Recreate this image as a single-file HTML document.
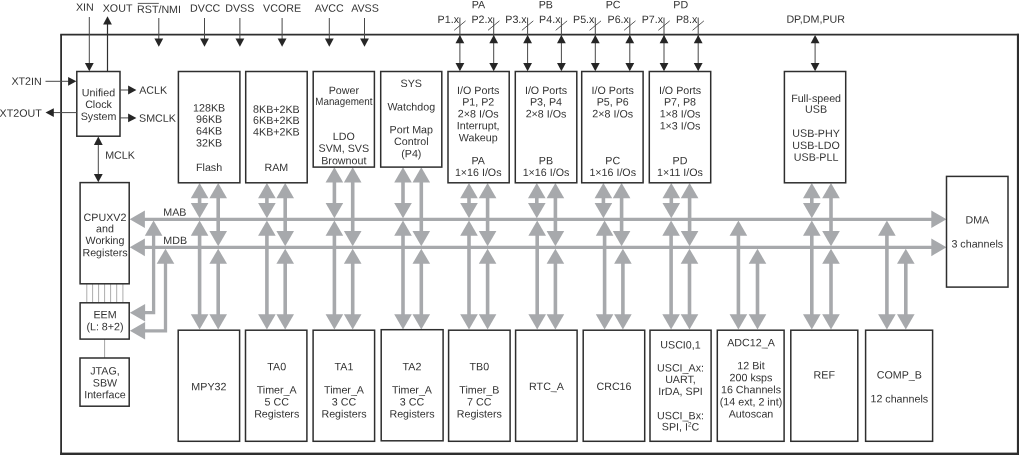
<!DOCTYPE html>
<html><head><meta charset="utf-8"><title>Functional Block Diagram</title>
<style>
html,body{margin:0;padding:0;background:#fff;}
body{width:1019px;height:455px;overflow:hidden;}
svg{display:block;will-change:transform;}
svg text{text-rendering:geometricPrecision;font-family:"Liberation Sans",sans-serif;font-size:10.7px;fill:#333333;}
</style></head><body>
<svg width="1019" height="455" viewBox="0 0 1019 455">
<line x1="60.2" y1="34.7" x2="1019" y2="34.7" stroke="#2e2e2e" stroke-width="1.8"/>
<line x1="61.1" y1="34.7" x2="61.1" y2="455" stroke="#2e2e2e" stroke-width="1.8"/>
<rect x="60.2" y="452.6" width="960" height="3.2" fill="#2e2e2e"/>
<rect x="1016.9" y="33.8" width="2.3" height="422" fill="#2e2e2e"/>
<line x1="140.00" y1="219.30" x2="935.00" y2="219.30" stroke="#a7a9ac" stroke-width="3.3"/>
<line x1="140.00" y1="247.35" x2="935.00" y2="247.35" stroke="#a7a9ac" stroke-width="3.3"/>
<polygon fill="#a7a9ac" points="129.70,219.30 144.90,210.50 144.90,228.10"/>
<polygon fill="#a7a9ac" points="129.70,247.35 144.90,238.55 144.90,256.15"/>
<polygon fill="#a7a9ac" points="946.50,219.30 931.30,210.50 931.30,228.10"/>
<polygon fill="#a7a9ac" points="946.50,247.35 931.30,238.55 931.30,256.15"/>
<line x1="199.60" y1="190.80" x2="199.60" y2="211.30" stroke="#a7a9ac" stroke-width="3.6"/>
<line x1="218.20" y1="190.80" x2="218.20" y2="239.35" stroke="#a7a9ac" stroke-width="3.6"/>
<polygon fill="#a7a9ac" points="199.60,183.00 190.80,198.20 208.40,198.20"/>
<polygon fill="#a7a9ac" points="218.20,183.00 209.40,198.20 227.00,198.20"/>
<polygon fill="#a7a9ac" points="199.60,218.20 190.80,203.00 208.40,203.00"/>
<polygon fill="#a7a9ac" points="218.20,246.25 209.40,231.05 227.00,231.05"/>
<line x1="199.60" y1="227.30" x2="199.60" y2="322.20" stroke="#a7a9ac" stroke-width="3.6"/>
<line x1="218.20" y1="255.35" x2="218.20" y2="322.20" stroke="#a7a9ac" stroke-width="3.6"/>
<polygon fill="#a7a9ac" points="199.60,220.60 190.80,235.80 208.40,235.80"/>
<polygon fill="#a7a9ac" points="218.20,248.65 209.40,263.85 227.00,263.85"/>
<polygon fill="#a7a9ac" points="199.60,329.50 190.80,314.30 208.40,314.30"/>
<polygon fill="#a7a9ac" points="218.20,329.50 209.40,314.30 227.00,314.30"/>
<line x1="266.90" y1="190.80" x2="266.90" y2="211.30" stroke="#a7a9ac" stroke-width="3.6"/>
<line x1="285.20" y1="190.80" x2="285.20" y2="239.35" stroke="#a7a9ac" stroke-width="3.6"/>
<polygon fill="#a7a9ac" points="266.90,183.00 258.10,198.20 275.70,198.20"/>
<polygon fill="#a7a9ac" points="285.20,183.00 276.40,198.20 294.00,198.20"/>
<polygon fill="#a7a9ac" points="266.90,218.20 258.10,203.00 275.70,203.00"/>
<polygon fill="#a7a9ac" points="285.20,246.25 276.40,231.05 294.00,231.05"/>
<line x1="266.90" y1="227.30" x2="266.90" y2="322.20" stroke="#a7a9ac" stroke-width="3.6"/>
<line x1="285.20" y1="255.35" x2="285.20" y2="322.20" stroke="#a7a9ac" stroke-width="3.6"/>
<polygon fill="#a7a9ac" points="266.90,220.60 258.10,235.80 275.70,235.80"/>
<polygon fill="#a7a9ac" points="285.20,248.65 276.40,263.85 294.00,263.85"/>
<polygon fill="#a7a9ac" points="266.90,329.50 258.10,314.30 275.70,314.30"/>
<polygon fill="#a7a9ac" points="285.20,329.50 276.40,314.30 294.00,314.30"/>
<line x1="334.40" y1="175.10" x2="334.40" y2="211.30" stroke="#a7a9ac" stroke-width="3.6"/>
<line x1="352.70" y1="175.10" x2="352.70" y2="239.35" stroke="#a7a9ac" stroke-width="3.6"/>
<polygon fill="#a7a9ac" points="334.40,167.30 325.60,182.50 343.20,182.50"/>
<polygon fill="#a7a9ac" points="352.70,167.30 343.90,182.50 361.50,182.50"/>
<polygon fill="#a7a9ac" points="334.40,218.20 325.60,203.00 343.20,203.00"/>
<polygon fill="#a7a9ac" points="352.70,246.25 343.90,231.05 361.50,231.05"/>
<line x1="334.40" y1="227.30" x2="334.40" y2="322.20" stroke="#a7a9ac" stroke-width="3.6"/>
<line x1="352.70" y1="255.35" x2="352.70" y2="322.20" stroke="#a7a9ac" stroke-width="3.6"/>
<polygon fill="#a7a9ac" points="334.40,220.60 325.60,235.80 343.20,235.80"/>
<polygon fill="#a7a9ac" points="352.70,248.65 343.90,263.85 361.50,263.85"/>
<polygon fill="#a7a9ac" points="334.40,329.50 325.60,314.30 343.20,314.30"/>
<polygon fill="#a7a9ac" points="352.70,329.50 343.90,314.30 361.50,314.30"/>
<line x1="403.00" y1="175.10" x2="403.00" y2="211.30" stroke="#a7a9ac" stroke-width="3.6"/>
<line x1="421.30" y1="175.10" x2="421.30" y2="239.35" stroke="#a7a9ac" stroke-width="3.6"/>
<polygon fill="#a7a9ac" points="403.00,167.30 394.20,182.50 411.80,182.50"/>
<polygon fill="#a7a9ac" points="421.30,167.30 412.50,182.50 430.10,182.50"/>
<polygon fill="#a7a9ac" points="403.00,218.20 394.20,203.00 411.80,203.00"/>
<polygon fill="#a7a9ac" points="421.30,246.25 412.50,231.05 430.10,231.05"/>
<line x1="403.00" y1="227.30" x2="403.00" y2="322.20" stroke="#a7a9ac" stroke-width="3.6"/>
<line x1="421.30" y1="255.35" x2="421.30" y2="322.20" stroke="#a7a9ac" stroke-width="3.6"/>
<polygon fill="#a7a9ac" points="403.00,220.60 394.20,235.80 411.80,235.80"/>
<polygon fill="#a7a9ac" points="421.30,248.65 412.50,263.85 430.10,263.85"/>
<polygon fill="#a7a9ac" points="403.00,329.50 394.20,314.30 411.80,314.30"/>
<polygon fill="#a7a9ac" points="421.30,329.50 412.50,314.30 430.10,314.30"/>
<line x1="469.00" y1="190.80" x2="469.00" y2="211.30" stroke="#a7a9ac" stroke-width="3.6"/>
<line x1="487.60" y1="190.80" x2="487.60" y2="239.35" stroke="#a7a9ac" stroke-width="3.6"/>
<polygon fill="#a7a9ac" points="469.00,183.00 460.20,198.20 477.80,198.20"/>
<polygon fill="#a7a9ac" points="487.60,183.00 478.80,198.20 496.40,198.20"/>
<polygon fill="#a7a9ac" points="469.00,218.20 460.20,203.00 477.80,203.00"/>
<polygon fill="#a7a9ac" points="487.60,246.25 478.80,231.05 496.40,231.05"/>
<line x1="469.00" y1="227.30" x2="469.00" y2="322.20" stroke="#a7a9ac" stroke-width="3.6"/>
<line x1="487.60" y1="255.35" x2="487.60" y2="322.20" stroke="#a7a9ac" stroke-width="3.6"/>
<polygon fill="#a7a9ac" points="469.00,220.60 460.20,235.80 477.80,235.80"/>
<polygon fill="#a7a9ac" points="487.60,248.65 478.80,263.85 496.40,263.85"/>
<polygon fill="#a7a9ac" points="469.00,329.50 460.20,314.30 477.80,314.30"/>
<polygon fill="#a7a9ac" points="487.60,329.50 478.80,314.30 496.40,314.30"/>
<line x1="536.80" y1="190.80" x2="536.80" y2="211.30" stroke="#a7a9ac" stroke-width="3.6"/>
<line x1="555.40" y1="190.80" x2="555.40" y2="239.35" stroke="#a7a9ac" stroke-width="3.6"/>
<polygon fill="#a7a9ac" points="536.80,183.00 528.00,198.20 545.60,198.20"/>
<polygon fill="#a7a9ac" points="555.40,183.00 546.60,198.20 564.20,198.20"/>
<polygon fill="#a7a9ac" points="536.80,218.20 528.00,203.00 545.60,203.00"/>
<polygon fill="#a7a9ac" points="555.40,246.25 546.60,231.05 564.20,231.05"/>
<line x1="537.20" y1="227.30" x2="537.20" y2="322.20" stroke="#a7a9ac" stroke-width="3.6"/>
<line x1="555.40" y1="255.35" x2="555.40" y2="322.20" stroke="#a7a9ac" stroke-width="3.6"/>
<polygon fill="#a7a9ac" points="537.20,220.60 528.40,235.80 546.00,235.80"/>
<polygon fill="#a7a9ac" points="555.40,248.65 546.60,263.85 564.20,263.85"/>
<polygon fill="#a7a9ac" points="537.20,329.50 528.40,314.30 546.00,314.30"/>
<polygon fill="#a7a9ac" points="555.40,329.50 546.60,314.30 564.20,314.30"/>
<line x1="603.40" y1="190.80" x2="603.40" y2="211.30" stroke="#a7a9ac" stroke-width="3.6"/>
<line x1="621.60" y1="190.80" x2="621.60" y2="239.35" stroke="#a7a9ac" stroke-width="3.6"/>
<polygon fill="#a7a9ac" points="603.40,183.00 594.60,198.20 612.20,198.20"/>
<polygon fill="#a7a9ac" points="621.60,183.00 612.80,198.20 630.40,198.20"/>
<polygon fill="#a7a9ac" points="603.40,218.20 594.60,203.00 612.20,203.00"/>
<polygon fill="#a7a9ac" points="621.60,246.25 612.80,231.05 630.40,231.05"/>
<line x1="604.60" y1="227.30" x2="604.60" y2="322.20" stroke="#a7a9ac" stroke-width="3.6"/>
<line x1="622.90" y1="255.35" x2="622.90" y2="322.20" stroke="#a7a9ac" stroke-width="3.6"/>
<polygon fill="#a7a9ac" points="604.60,220.60 595.80,235.80 613.40,235.80"/>
<polygon fill="#a7a9ac" points="622.90,248.65 614.10,263.85 631.70,263.85"/>
<polygon fill="#a7a9ac" points="604.60,329.50 595.80,314.30 613.40,314.30"/>
<polygon fill="#a7a9ac" points="622.90,329.50 614.10,314.30 631.70,314.30"/>
<line x1="671.30" y1="190.80" x2="671.30" y2="211.30" stroke="#a7a9ac" stroke-width="3.6"/>
<line x1="689.60" y1="190.80" x2="689.60" y2="239.35" stroke="#a7a9ac" stroke-width="3.6"/>
<polygon fill="#a7a9ac" points="671.30,183.00 662.50,198.20 680.10,198.20"/>
<polygon fill="#a7a9ac" points="689.60,183.00 680.80,198.20 698.40,198.20"/>
<polygon fill="#a7a9ac" points="671.30,218.20 662.50,203.00 680.10,203.00"/>
<polygon fill="#a7a9ac" points="689.60,246.25 680.80,231.05 698.40,231.05"/>
<line x1="671.10" y1="227.30" x2="671.10" y2="322.20" stroke="#a7a9ac" stroke-width="3.6"/>
<line x1="689.50" y1="255.35" x2="689.50" y2="322.20" stroke="#a7a9ac" stroke-width="3.6"/>
<polygon fill="#a7a9ac" points="671.10,220.60 662.30,235.80 679.90,235.80"/>
<polygon fill="#a7a9ac" points="689.50,248.65 680.70,263.85 698.30,263.85"/>
<polygon fill="#a7a9ac" points="671.10,329.50 662.30,314.30 679.90,314.30"/>
<polygon fill="#a7a9ac" points="689.50,329.50 680.70,314.30 698.30,314.30"/>
<line x1="738.40" y1="227.30" x2="738.40" y2="322.20" stroke="#a7a9ac" stroke-width="3.6"/>
<line x1="757.50" y1="255.35" x2="757.50" y2="322.20" stroke="#a7a9ac" stroke-width="3.6"/>
<polygon fill="#a7a9ac" points="738.40,220.60 729.60,235.80 747.20,235.80"/>
<polygon fill="#a7a9ac" points="757.50,248.65 748.70,263.85 766.30,263.85"/>
<polygon fill="#a7a9ac" points="738.40,329.50 729.60,314.30 747.20,314.30"/>
<polygon fill="#a7a9ac" points="757.50,329.50 748.70,314.30 766.30,314.30"/>
<line x1="811.80" y1="190.80" x2="811.80" y2="211.30" stroke="#a7a9ac" stroke-width="3.6"/>
<line x1="831.00" y1="190.80" x2="831.00" y2="239.35" stroke="#a7a9ac" stroke-width="3.6"/>
<polygon fill="#a7a9ac" points="811.80,183.00 803.00,198.20 820.60,198.20"/>
<polygon fill="#a7a9ac" points="831.00,183.00 822.20,198.20 839.80,198.20"/>
<polygon fill="#a7a9ac" points="811.80,218.20 803.00,203.00 820.60,203.00"/>
<polygon fill="#a7a9ac" points="831.00,246.25 822.20,231.05 839.80,231.05"/>
<line x1="811.80" y1="227.30" x2="811.80" y2="322.20" stroke="#a7a9ac" stroke-width="3.6"/>
<line x1="831.00" y1="255.35" x2="831.00" y2="322.20" stroke="#a7a9ac" stroke-width="3.6"/>
<polygon fill="#a7a9ac" points="811.80,220.60 803.00,235.80 820.60,235.80"/>
<polygon fill="#a7a9ac" points="831.00,248.65 822.20,263.85 839.80,263.85"/>
<polygon fill="#a7a9ac" points="811.80,329.50 803.00,314.30 820.60,314.30"/>
<polygon fill="#a7a9ac" points="831.00,329.50 822.20,314.30 839.80,314.30"/>
<line x1="886.90" y1="227.30" x2="886.90" y2="322.20" stroke="#a7a9ac" stroke-width="3.6"/>
<line x1="905.80" y1="255.35" x2="905.80" y2="322.20" stroke="#a7a9ac" stroke-width="3.6"/>
<polygon fill="#a7a9ac" points="886.90,220.60 878.10,235.80 895.70,235.80"/>
<polygon fill="#a7a9ac" points="905.80,248.65 897.00,263.85 914.60,263.85"/>
<polygon fill="#a7a9ac" points="886.90,329.50 878.10,314.30 895.70,314.30"/>
<polygon fill="#a7a9ac" points="905.80,329.50 897.00,314.30 914.60,314.30"/>
<polyline fill="none" stroke="#a7a9ac" stroke-width="3.3" points="153.6,227.3 153.6,312.7 140,312.7"/>
<polyline fill="none" stroke="#a7a9ac" stroke-width="3.3" points="165.5,255.35 165.5,330.8 140,330.8"/>
<polygon fill="#a7a9ac" points="153.60,220.60 144.80,235.80 162.40,235.80"/>
<polygon fill="#a7a9ac" points="165.50,248.65 156.70,263.85 174.30,263.85"/>
<polygon fill="#a7a9ac" points="129.90,312.70 145.10,303.90 145.10,321.50"/>
<polygon fill="#a7a9ac" points="129.90,330.80 145.10,322.00 145.10,339.60"/>
<line x1="86.80" y1="284.00" x2="86.80" y2="303.00" stroke="#a4a4a4" stroke-width="0.9"/>
<line x1="92.60" y1="284.00" x2="92.60" y2="303.00" stroke="#a4a4a4" stroke-width="0.9"/>
<line x1="98.60" y1="284.00" x2="98.60" y2="303.00" stroke="#a4a4a4" stroke-width="0.9"/>
<line x1="104.60" y1="284.00" x2="104.60" y2="303.00" stroke="#a4a4a4" stroke-width="0.9"/>
<line x1="110.60" y1="284.00" x2="110.60" y2="303.00" stroke="#a4a4a4" stroke-width="0.9"/>
<line x1="116.70" y1="284.00" x2="116.70" y2="303.00" stroke="#a4a4a4" stroke-width="0.9"/>
<line x1="122.90" y1="284.00" x2="122.90" y2="303.00" stroke="#a4a4a4" stroke-width="0.9"/>
<line x1="104.60" y1="339.00" x2="104.60" y2="358.00" stroke="#9a9a9a" stroke-width="0.9"/>
<rect x="76.80" y="71.50" width="43.20" height="64.70" fill="#fff" stroke="#2e2e2e" stroke-width="1.5"/>
<rect x="80.10" y="182.60" width="49.10" height="101.20" fill="#fff" stroke="#2e2e2e" stroke-width="1.5"/>
<rect x="80.10" y="302.80" width="49.10" height="36.30" fill="#fff" stroke="#2e2e2e" stroke-width="1.5"/>
<rect x="80.00" y="358.00" width="49.20" height="48.20" fill="#fff" stroke="#2e2e2e" stroke-width="1.5"/>
<rect x="178.40" y="71.50" width="61.50" height="111.30" fill="#fff" stroke="#2e2e2e" stroke-width="1.5"/>
<rect x="245.70" y="71.50" width="61.50" height="111.30" fill="#fff" stroke="#2e2e2e" stroke-width="1.5"/>
<rect x="313.20" y="71.50" width="61.20" height="95.60" fill="#fff" stroke="#2e2e2e" stroke-width="1.5"/>
<rect x="380.70" y="71.50" width="61.10" height="95.60" fill="#fff" stroke="#2e2e2e" stroke-width="1.5"/>
<rect x="448.00" y="71.50" width="61.20" height="111.30" fill="#fff" stroke="#2e2e2e" stroke-width="1.5"/>
<rect x="515.30" y="71.50" width="61.50" height="111.30" fill="#fff" stroke="#2e2e2e" stroke-width="1.5"/>
<rect x="581.70" y="71.50" width="61.40" height="111.30" fill="#fff" stroke="#2e2e2e" stroke-width="1.5"/>
<rect x="649.30" y="71.50" width="61.40" height="111.30" fill="#fff" stroke="#2e2e2e" stroke-width="1.5"/>
<rect x="784.40" y="71.50" width="61.30" height="111.30" fill="#fff" stroke="#2e2e2e" stroke-width="1.5"/>
<rect x="178.20" y="330.20" width="61.40" height="111.10" fill="#fff" stroke="#2e2e2e" stroke-width="1.5"/>
<rect x="245.50" y="330.20" width="61.40" height="111.10" fill="#fff" stroke="#2e2e2e" stroke-width="1.5"/>
<rect x="313.10" y="330.20" width="61.50" height="111.10" fill="#fff" stroke="#2e2e2e" stroke-width="1.5"/>
<rect x="381.20" y="329.70" width="61.90" height="111.10" fill="#fff" stroke="#2e2e2e" stroke-width="1.5"/>
<rect x="448.60" y="330.20" width="61.50" height="111.10" fill="#fff" stroke="#2e2e2e" stroke-width="1.5"/>
<rect x="515.60" y="330.20" width="61.50" height="111.10" fill="#fff" stroke="#2e2e2e" stroke-width="1.5"/>
<rect x="583.20" y="330.20" width="61.50" height="111.10" fill="#fff" stroke="#2e2e2e" stroke-width="1.5"/>
<rect x="650.00" y="330.20" width="61.10" height="111.10" fill="#fff" stroke="#2e2e2e" stroke-width="1.5"/>
<rect x="717.30" y="330.20" width="66.80" height="111.10" fill="#fff" stroke="#2e2e2e" stroke-width="1.5"/>
<rect x="790.80" y="330.20" width="67.00" height="111.10" fill="#fff" stroke="#2e2e2e" stroke-width="1.5"/>
<rect x="865.60" y="330.20" width="67.00" height="111.10" fill="#fff" stroke="#2e2e2e" stroke-width="1.5"/>
<rect x="946.50" y="176.40" width="61.50" height="110.70" fill="#fff" stroke="#2e2e2e" stroke-width="1.5"/>
<line x1="89.30" y1="17.00" x2="89.30" y2="66.00" stroke="#484848" stroke-width="1.0"/>
<polygon fill="#262626" points="89.30,71.20 84.90,62.90 93.70,62.90"/>
<line x1="107.50" y1="22.00" x2="107.50" y2="71.50" stroke="#2e2e2e" stroke-width="1.2"/>
<polygon fill="#262626" points="107.50,16.30 103.10,24.60 111.90,24.60"/>
<line x1="158.80" y1="18.00" x2="158.80" y2="41.00" stroke="#484848" stroke-width="1.0"/>
<polygon fill="#262626" points="158.80,46.80 154.40,38.50 163.20,38.50"/>
<line x1="204.50" y1="18.00" x2="204.50" y2="41.00" stroke="#484848" stroke-width="1.0"/>
<polygon fill="#262626" points="204.50,46.80 200.10,38.50 208.90,38.50"/>
<line x1="239.90" y1="18.00" x2="239.90" y2="41.00" stroke="#484848" stroke-width="1.0"/>
<polygon fill="#262626" points="239.90,46.80 235.50,38.50 244.30,38.50"/>
<line x1="282.10" y1="18.00" x2="282.10" y2="41.00" stroke="#484848" stroke-width="1.0"/>
<polygon fill="#262626" points="282.10,46.80 277.70,38.50 286.50,38.50"/>
<line x1="329.30" y1="18.00" x2="329.30" y2="41.00" stroke="#484848" stroke-width="1.0"/>
<polygon fill="#262626" points="329.30,46.80 324.90,38.50 333.70,38.50"/>
<line x1="364.50" y1="18.00" x2="364.50" y2="41.00" stroke="#484848" stroke-width="1.0"/>
<polygon fill="#262626" points="364.50,46.80 360.10,38.50 368.90,38.50"/>
<line x1="45.50" y1="81.30" x2="70.00" y2="81.30" stroke="#484848" stroke-width="1.0"/>
<polygon fill="#262626" points="76.40,81.30 68.10,76.90 68.10,85.70"/>
<line x1="52.00" y1="112.60" x2="76.80" y2="112.60" stroke="#484848" stroke-width="1.0"/>
<polygon fill="#262626" points="45.50,112.60 53.80,108.20 53.80,117.00"/>
<line x1="120.00" y1="90.00" x2="130.00" y2="90.00" stroke="#484848" stroke-width="1.0"/>
<polygon fill="#262626" points="136.40,90.00 128.10,85.60 128.10,94.40"/>
<line x1="120.00" y1="117.90" x2="130.00" y2="117.90" stroke="#484848" stroke-width="1.0"/>
<polygon fill="#262626" points="136.40,117.90 128.10,113.50 128.10,122.30"/>
<line x1="98.30" y1="142.00" x2="98.30" y2="176.00" stroke="#484848" stroke-width="1.0"/>
<polygon fill="#262626" points="98.30,136.60 93.90,144.90 102.70,144.90"/>
<polygon fill="#262626" points="98.30,182.20 93.90,173.90 102.70,173.90"/>
<line x1="459.90" y1="17.60" x2="459.90" y2="66.00" stroke="#484848" stroke-width="1.0"/>
<polygon fill="#262626" points="459.90,35.00 455.50,43.30 464.30,43.30"/>
<polygon fill="#262626" points="459.90,71.20 455.50,62.90 464.30,62.90"/>
<line x1="454.20" y1="30.30" x2="465.60" y2="20.90" stroke="#484848" stroke-width="0.9"/>
<line x1="493.70" y1="17.60" x2="493.70" y2="66.00" stroke="#484848" stroke-width="1.0"/>
<polygon fill="#262626" points="493.70,35.00 489.30,43.30 498.10,43.30"/>
<polygon fill="#262626" points="493.70,71.20 489.30,62.90 498.10,62.90"/>
<line x1="488.00" y1="30.30" x2="499.40" y2="20.90" stroke="#484848" stroke-width="0.9"/>
<line x1="527.60" y1="17.60" x2="527.60" y2="66.00" stroke="#484848" stroke-width="1.0"/>
<polygon fill="#262626" points="527.60,35.00 523.20,43.30 532.00,43.30"/>
<polygon fill="#262626" points="527.60,71.20 523.20,62.90 532.00,62.90"/>
<line x1="521.90" y1="30.30" x2="533.30" y2="20.90" stroke="#484848" stroke-width="0.9"/>
<line x1="561.40" y1="17.60" x2="561.40" y2="66.00" stroke="#484848" stroke-width="1.0"/>
<polygon fill="#262626" points="561.40,35.00 557.00,43.30 565.80,43.30"/>
<polygon fill="#262626" points="561.40,71.20 557.00,62.90 565.80,62.90"/>
<line x1="555.70" y1="30.30" x2="567.10" y2="20.90" stroke="#484848" stroke-width="0.9"/>
<line x1="595.30" y1="17.60" x2="595.30" y2="66.00" stroke="#484848" stroke-width="1.0"/>
<polygon fill="#262626" points="595.30,35.00 590.90,43.30 599.70,43.30"/>
<polygon fill="#262626" points="595.30,71.20 590.90,62.90 599.70,62.90"/>
<line x1="589.60" y1="30.30" x2="601.00" y2="20.90" stroke="#484848" stroke-width="0.9"/>
<line x1="629.80" y1="17.60" x2="629.80" y2="66.00" stroke="#484848" stroke-width="1.0"/>
<polygon fill="#262626" points="629.80,35.00 625.40,43.30 634.20,43.30"/>
<polygon fill="#262626" points="629.80,71.20 625.40,62.90 634.20,62.90"/>
<line x1="624.10" y1="30.30" x2="635.50" y2="20.90" stroke="#484848" stroke-width="0.9"/>
<line x1="664.00" y1="17.60" x2="664.00" y2="66.00" stroke="#484848" stroke-width="1.0"/>
<polygon fill="#262626" points="664.00,35.00 659.60,43.30 668.40,43.30"/>
<polygon fill="#262626" points="664.00,71.20 659.60,62.90 668.40,62.90"/>
<line x1="658.30" y1="30.30" x2="669.70" y2="20.90" stroke="#484848" stroke-width="0.9"/>
<line x1="698.20" y1="17.60" x2="698.20" y2="66.00" stroke="#484848" stroke-width="1.0"/>
<polygon fill="#262626" points="698.20,35.00 693.80,43.30 702.60,43.30"/>
<polygon fill="#262626" points="698.20,71.20 693.80,62.90 702.60,62.90"/>
<line x1="692.50" y1="30.30" x2="703.90" y2="20.90" stroke="#484848" stroke-width="0.9"/>
<line x1="815.10" y1="42.00" x2="815.10" y2="66.00" stroke="#484848" stroke-width="1.0"/>
<polygon fill="#262626" points="815.10,35.00 810.70,43.30 819.50,43.30"/>
<polygon fill="#262626" points="815.10,71.20 810.70,62.90 819.50,62.90"/>
<text transform="matrix(1,0.001,0,1,0,-0.0849)" x="84.90" y="10.85" text-anchor="middle">XIN</text>
<text transform="matrix(1,0.001,0,1,0,-0.1176)" x="117.60" y="11.75" text-anchor="middle">XOUT</text>
<text transform="matrix(1,0.001,0,1,0,-0.1590)" x="159.00" y="12.90" text-anchor="middle">RST/NMI</text>
<line x1="137.80" y1="3.40" x2="158.80" y2="3.40" stroke="#484848" stroke-width="0.9"/>
<text transform="matrix(1,0.001,0,1,0,-0.2052)" x="205.20" y="11.80" text-anchor="middle">DVCC</text>
<text transform="matrix(1,0.001,0,1,0,-0.2398)" x="239.80" y="11.80" text-anchor="middle">DVSS</text>
<text transform="matrix(1,0.001,0,1,0,-0.2821)" x="282.10" y="11.80" text-anchor="middle">VCORE</text>
<text transform="matrix(1,0.001,0,1,0,-0.3293)" x="329.30" y="11.80" text-anchor="middle">AVCC</text>
<text transform="matrix(1,0.001,0,1,0,-0.3650)" x="365.00" y="11.80" text-anchor="middle">AVSS</text>
<text transform="matrix(1,0.001,0,1,0,-0.4784)" x="478.40" y="8.20" text-anchor="middle">PA</text>
<text transform="matrix(1,0.001,0,1,0,-0.5458)" x="545.80" y="8.20" text-anchor="middle">PB</text>
<text transform="matrix(1,0.001,0,1,0,-0.6131)" x="613.10" y="8.20" text-anchor="middle">PC</text>
<text transform="matrix(1,0.001,0,1,0,-0.6807)" x="680.70" y="8.20" text-anchor="middle">PD</text>
<text transform="matrix(1,0.001,0,1,0,-0.4590)" x="459.00" y="23.00" text-anchor="end">P1.x</text>
<text transform="matrix(1,0.001,0,1,0,-0.4928)" x="492.80" y="23.00" text-anchor="end">P2.x</text>
<text transform="matrix(1,0.001,0,1,0,-0.5267)" x="526.70" y="23.00" text-anchor="end">P3.x</text>
<text transform="matrix(1,0.001,0,1,0,-0.5605)" x="560.50" y="23.00" text-anchor="end">P4.x</text>
<text transform="matrix(1,0.001,0,1,0,-0.5944)" x="594.40" y="23.00" text-anchor="end">P5.x</text>
<text transform="matrix(1,0.001,0,1,0,-0.6289)" x="628.90" y="23.00" text-anchor="end">P6.x</text>
<text transform="matrix(1,0.001,0,1,0,-0.6631)" x="663.10" y="23.00" text-anchor="end">P7.x</text>
<text transform="matrix(1,0.001,0,1,0,-0.6973)" x="697.30" y="23.00" text-anchor="end">P8.x</text>
<text transform="matrix(1,0.001,0,1,0,-0.7864)" x="786.40" y="22.80" text-anchor="start" font-size="10">DP,DM,PUR</text>
<text transform="matrix(1,0.001,0,1,0,-0.0417)" x="41.70" y="84.90" text-anchor="end">XT2IN</text>
<text transform="matrix(1,0.001,0,1,0,-0.0417)" x="41.70" y="116.80" text-anchor="end">XT2OUT</text>
<text transform="matrix(1,0.001,0,1,0,-0.1392)" x="139.20" y="93.80" text-anchor="start">ACLK</text>
<text transform="matrix(1,0.001,0,1,0,-0.1390)" x="139.00" y="121.70" text-anchor="start">SMCLK</text>
<text transform="matrix(1,0.001,0,1,0,-0.1052)" x="105.20" y="158.80" text-anchor="start">MCLK</text>
<text transform="matrix(1,0.001,0,1,0,-0.1633)" x="163.30" y="215.70" text-anchor="start">MAB</text>
<text transform="matrix(1,0.001,0,1,0,-0.1633)" x="163.30" y="244.00" text-anchor="start">MDB</text>
<text transform="matrix(1,0.001,0,1,0,-0.0985)" x="98.50" y="96.20" text-anchor="middle">Unified</text>
<text transform="matrix(1,0.001,0,1,0,-0.0985)" x="98.50" y="108.10" text-anchor="middle">Clock</text>
<text transform="matrix(1,0.001,0,1,0,-0.0985)" x="98.50" y="120.10" text-anchor="middle">System</text>
<text transform="matrix(1,0.001,0,1,0,-0.1050)" x="105.00" y="221.10" text-anchor="middle">CPUXV2</text>
<text transform="matrix(1,0.001,0,1,0,-0.1050)" x="105.00" y="232.20" text-anchor="middle">and</text>
<text transform="matrix(1,0.001,0,1,0,-0.1050)" x="105.00" y="244.00" text-anchor="middle">Working</text>
<text transform="matrix(1,0.001,0,1,0,-0.1050)" x="105.00" y="256.20" text-anchor="middle">Registers</text>
<text transform="matrix(1,0.001,0,1,0,-0.1050)" x="105.00" y="318.20" text-anchor="middle">EEM</text>
<text transform="matrix(1,0.001,0,1,0,-0.1050)" x="105.00" y="330.20" text-anchor="middle">(L: 8+2)</text>
<text transform="matrix(1,0.001,0,1,0,-0.1050)" x="105.00" y="374.60" text-anchor="middle">JTAG,</text>
<text transform="matrix(1,0.001,0,1,0,-0.1050)" x="105.00" y="386.40" text-anchor="middle">SBW</text>
<text transform="matrix(1,0.001,0,1,0,-0.1050)" x="105.00" y="398.30" text-anchor="middle">Interface</text>
<text transform="matrix(1,0.001,0,1,0,-0.2091)" x="209.10" y="111.60" text-anchor="middle">128KB</text>
<text transform="matrix(1,0.001,0,1,0,-0.2091)" x="209.10" y="122.70" text-anchor="middle">96KB</text>
<text transform="matrix(1,0.001,0,1,0,-0.2091)" x="209.10" y="134.40" text-anchor="middle">64KB</text>
<text transform="matrix(1,0.001,0,1,0,-0.2091)" x="209.10" y="146.60" text-anchor="middle">32KB</text>
<text transform="matrix(1,0.001,0,1,0,-0.2091)" x="209.10" y="170.90" text-anchor="middle">Flash</text>
<text transform="matrix(1,0.001,0,1,0,-0.2764)" x="276.40" y="112.90" text-anchor="middle">8KB+2KB</text>
<text transform="matrix(1,0.001,0,1,0,-0.2764)" x="276.40" y="123.90" text-anchor="middle">6KB+2KB</text>
<text transform="matrix(1,0.001,0,1,0,-0.2764)" x="276.40" y="135.60" text-anchor="middle">4KB+2KB</text>
<text transform="matrix(1,0.001,0,1,0,-0.2764)" x="276.40" y="171.00" text-anchor="middle">RAM</text>
<text transform="matrix(1,0.001,0,1,0,-0.3438)" x="343.80" y="94.00" text-anchor="middle">Power</text>
<text transform="matrix(1,0.001,0,1,0,-0.3438)" x="343.80" y="139.90" text-anchor="middle">LDO</text>
<text transform="matrix(1,0.001,0,1,0,-0.3438)" x="343.80" y="151.90" text-anchor="middle">SVM, SVS</text>
<text transform="matrix(1,0.001,0,1,0,-0.3438)" x="343.80" y="164.20" text-anchor="middle">Brownout</text>
<text transform="matrix(1,0.001,0,1,0,-0.3439)" x="343.90" y="105.10" text-anchor="middle" textLength="57.2" lengthAdjust="spacingAndGlyphs">Management</text>
<text transform="matrix(1,0.001,0,1,0,-0.4113)" x="411.30" y="87.00" text-anchor="middle">SYS</text>
<text transform="matrix(1,0.001,0,1,0,-0.4113)" x="411.30" y="110.40" text-anchor="middle">Watchdog</text>
<text transform="matrix(1,0.001,0,1,0,-0.4113)" x="411.30" y="133.30" text-anchor="middle">Port Map</text>
<text transform="matrix(1,0.001,0,1,0,-0.4113)" x="411.30" y="145.00" text-anchor="middle">Control</text>
<text transform="matrix(1,0.001,0,1,0,-0.4113)" x="411.30" y="157.20" text-anchor="middle">(P4)</text>
<text transform="matrix(1,0.001,0,1,0,-0.4782)" x="478.20" y="94.00" text-anchor="middle">I/O Ports</text>
<text transform="matrix(1,0.001,0,1,0,-0.4782)" x="478.20" y="105.60" text-anchor="middle">P1, P2</text>
<text transform="matrix(1,0.001,0,1,0,-0.4782)" x="478.20" y="117.40" text-anchor="middle">2×8 I/Os</text>
<text transform="matrix(1,0.001,0,1,0,-0.4782)" x="478.20" y="129.30" text-anchor="middle">Interrupt,</text>
<text transform="matrix(1,0.001,0,1,0,-0.4782)" x="478.20" y="141.20" text-anchor="middle">Wakeup</text>
<text transform="matrix(1,0.001,0,1,0,-0.4782)" x="478.20" y="164.30" text-anchor="middle">PA</text>
<text transform="matrix(1,0.001,0,1,0,-0.4782)" x="478.20" y="176.10" text-anchor="middle">1×16 I/Os</text>
<text transform="matrix(1,0.001,0,1,0,-0.5460)" x="546.00" y="94.00" text-anchor="middle">I/O Ports</text>
<text transform="matrix(1,0.001,0,1,0,-0.5460)" x="546.00" y="105.60" text-anchor="middle">P3, P4</text>
<text transform="matrix(1,0.001,0,1,0,-0.5460)" x="546.00" y="117.40" text-anchor="middle">2×8 I/Os</text>
<text transform="matrix(1,0.001,0,1,0,-0.5460)" x="546.00" y="164.30" text-anchor="middle">PB</text>
<text transform="matrix(1,0.001,0,1,0,-0.5460)" x="546.00" y="176.10" text-anchor="middle">1×16 I/Os</text>
<text transform="matrix(1,0.001,0,1,0,-0.6127)" x="612.70" y="94.00" text-anchor="middle">I/O Ports</text>
<text transform="matrix(1,0.001,0,1,0,-0.6127)" x="612.70" y="105.60" text-anchor="middle">P5, P6</text>
<text transform="matrix(1,0.001,0,1,0,-0.6127)" x="612.70" y="117.40" text-anchor="middle">2×8 I/Os</text>
<text transform="matrix(1,0.001,0,1,0,-0.6127)" x="612.70" y="164.30" text-anchor="middle">PC</text>
<text transform="matrix(1,0.001,0,1,0,-0.6127)" x="612.70" y="176.10" text-anchor="middle">1×16 I/Os</text>
<text transform="matrix(1,0.001,0,1,0,-0.6800)" x="680.00" y="94.00" text-anchor="middle">I/O Ports</text>
<text transform="matrix(1,0.001,0,1,0,-0.6800)" x="680.00" y="105.60" text-anchor="middle">P7, P8</text>
<text transform="matrix(1,0.001,0,1,0,-0.6800)" x="680.00" y="117.40" text-anchor="middle">1×8 I/Os</text>
<text transform="matrix(1,0.001,0,1,0,-0.6800)" x="680.00" y="129.40" text-anchor="middle">1×3 I/Os</text>
<text transform="matrix(1,0.001,0,1,0,-0.6800)" x="680.00" y="164.30" text-anchor="middle">PD</text>
<text transform="matrix(1,0.001,0,1,0,-0.6800)" x="680.00" y="176.10" text-anchor="middle">1×11 I/Os</text>
<text transform="matrix(1,0.001,0,1,0,-0.8161)" x="816.10" y="102.00" text-anchor="middle">Full-speed</text>
<text transform="matrix(1,0.001,0,1,0,-0.8161)" x="816.10" y="112.70" text-anchor="middle">USB</text>
<text transform="matrix(1,0.001,0,1,0,-0.8161)" x="816.10" y="136.90" text-anchor="middle">USB-PHY</text>
<text transform="matrix(1,0.001,0,1,0,-0.8161)" x="816.10" y="149.00" text-anchor="middle">USB-LDO</text>
<text transform="matrix(1,0.001,0,1,0,-0.8161)" x="816.10" y="160.80" text-anchor="middle">USB-PLL</text>
<text transform="matrix(1,0.001,0,1,0,-0.9773)" x="977.30" y="223.50" text-anchor="middle">DMA</text>
<text transform="matrix(1,0.001,0,1,0,-0.9773)" x="977.30" y="247.60" text-anchor="middle">3 channels</text>
<text transform="matrix(1,0.001,0,1,0,-0.2089)" x="208.90" y="390.20" text-anchor="middle">MPY32</text>
<text transform="matrix(1,0.001,0,1,0,-0.2767)" x="276.70" y="370.20" text-anchor="middle">TA0</text>
<text transform="matrix(1,0.001,0,1,0,-0.2767)" x="276.70" y="393.50" text-anchor="middle">Timer_A</text>
<text transform="matrix(1,0.001,0,1,0,-0.2767)" x="276.70" y="405.40" text-anchor="middle">5 CC</text>
<text transform="matrix(1,0.001,0,1,0,-0.2767)" x="276.70" y="417.50" text-anchor="middle">Registers</text>
<text transform="matrix(1,0.001,0,1,0,-0.3440)" x="344.00" y="370.20" text-anchor="middle">TA1</text>
<text transform="matrix(1,0.001,0,1,0,-0.3440)" x="344.00" y="393.50" text-anchor="middle">Timer_A</text>
<text transform="matrix(1,0.001,0,1,0,-0.3440)" x="344.00" y="405.40" text-anchor="middle">3 CC</text>
<text transform="matrix(1,0.001,0,1,0,-0.3440)" x="344.00" y="417.50" text-anchor="middle">Registers</text>
<text transform="matrix(1,0.001,0,1,0,-0.4120)" x="412.00" y="370.20" text-anchor="middle">TA2</text>
<text transform="matrix(1,0.001,0,1,0,-0.4120)" x="412.00" y="393.50" text-anchor="middle">Timer_A</text>
<text transform="matrix(1,0.001,0,1,0,-0.4120)" x="412.00" y="405.40" text-anchor="middle">3 CC</text>
<text transform="matrix(1,0.001,0,1,0,-0.4120)" x="412.00" y="417.50" text-anchor="middle">Registers</text>
<text transform="matrix(1,0.001,0,1,0,-0.4793)" x="479.30" y="370.20" text-anchor="middle">TB0</text>
<text transform="matrix(1,0.001,0,1,0,-0.4793)" x="479.30" y="393.50" text-anchor="middle">Timer_B</text>
<text transform="matrix(1,0.001,0,1,0,-0.4793)" x="479.30" y="405.40" text-anchor="middle">7 CC</text>
<text transform="matrix(1,0.001,0,1,0,-0.4793)" x="479.30" y="417.50" text-anchor="middle">Registers</text>
<text transform="matrix(1,0.001,0,1,0,-0.5465)" x="546.50" y="390.00" text-anchor="middle">RTC_A</text>
<text transform="matrix(1,0.001,0,1,0,-0.6140)" x="614.00" y="390.00" text-anchor="middle">CRC16</text>
<text transform="matrix(1,0.001,0,1,0,-0.6805)" x="680.50" y="348.40" text-anchor="middle">USCI0,1</text>
<text transform="matrix(1,0.001,0,1,0,-0.6805)" x="680.50" y="371.50" text-anchor="middle">USCI_Ax:</text>
<text transform="matrix(1,0.001,0,1,0,-0.6805)" x="680.50" y="383.00" text-anchor="middle">UART,</text>
<text transform="matrix(1,0.001,0,1,0,-0.6805)" x="680.50" y="395.10" text-anchor="middle">IrDA, SPI</text>
<text transform="matrix(1,0.001,0,1,0,-0.6805)" x="680.50" y="419.20" text-anchor="middle">USCI_Bx:</text>
<text transform="matrix(1,0.001,0,1,0,-0.6805)" x="680.50" y="430.40" text-anchor="middle">SPI, I<tspan font-size="6.5" dy="-4">2</tspan><tspan dy="4">C</tspan></text>
<text transform="matrix(1,0.001,0,1,0,-0.7510)" x="751.00" y="346.20" text-anchor="middle">ADC12_A</text>
<text transform="matrix(1,0.001,0,1,0,-0.7510)" x="751.00" y="369.30" text-anchor="middle">12 Bit</text>
<text transform="matrix(1,0.001,0,1,0,-0.7510)" x="751.00" y="381.20" text-anchor="middle">200 ksps</text>
<text transform="matrix(1,0.001,0,1,0,-0.7510)" x="751.00" y="393.30" text-anchor="middle">16 Channels</text>
<text transform="matrix(1,0.001,0,1,0,-0.7510)" x="751.00" y="405.40" text-anchor="middle">(14 ext, 2 int)</text>
<text transform="matrix(1,0.001,0,1,0,-0.7510)" x="751.00" y="417.50" text-anchor="middle">Autoscan</text>
<text transform="matrix(1,0.001,0,1,0,-0.8243)" x="824.30" y="378.50" text-anchor="middle">REF</text>
<text transform="matrix(1,0.001,0,1,0,-0.8993)" x="899.30" y="378.50" text-anchor="middle">COMP_B</text>
<text transform="matrix(1,0.001,0,1,0,-0.8993)" x="899.30" y="402.40" text-anchor="middle">12 channels</text>
</svg>
</body></html>
